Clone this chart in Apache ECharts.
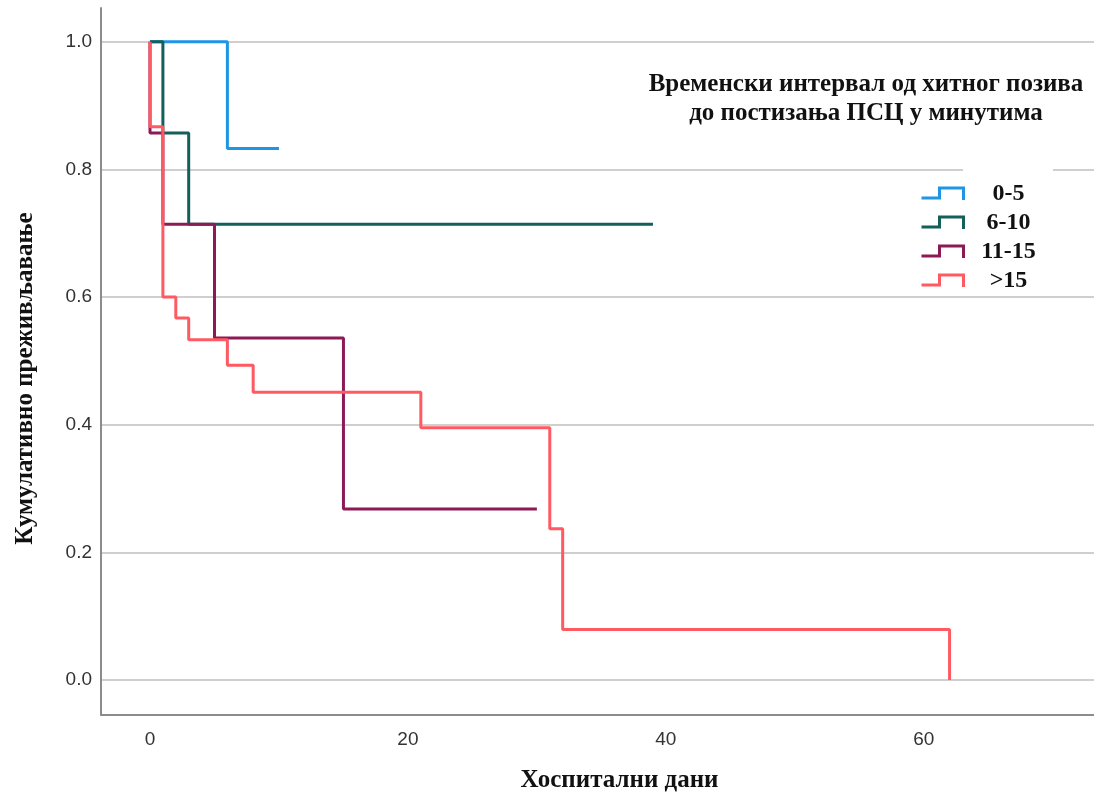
<!DOCTYPE html>
<html>
<head>
<meta charset="utf-8">
<script src="https://cdn.jsdelivr.net/npm/echarts@6/dist/echarts.min.js"></script>
<style>html,body{margin:0;padding:0;background:#fff}#c{width:1094px;height:798px}</style>
</head>
<body>
<div id="c"></div>
<script>
// Kaplan-Meier step data: [day, cumulative survival]
const seriesNames = ['0-5', '6-10', '11-15', '>15'];
const s0_5 = [[0, 1], [6, 0.833], [10, 0.833]];
const s6_10 = [[0, 1], [1, 0.857], [3, 0.714], [39, 0.714]];
const s11_15 = [[0, 1], [0, 0.857], [1, 0.714], [5, 0.536], [15, 0.268], [30, 0.268]];
const sOver15 = [[0, 1], [0, 0.867], [1, 0.6], [2, 0.567], [3, 0.533], [6, 0.493], [8, 0.451], [21, 0.395], [31, 0.237], [32, 0.079], [62, 0]];
const xTicks = [0, 20, 40, 60];
const yTicks = [0, 0.2, 0.4, 0.6, 0.8, 1.0];
const colors = ['#1f95e6', '#125f5c', '#8b1a56', '#ff5a62'];
const legendTitle = 'Временски интервал од хитног позива\nдо постизања ПСЦ у минутима';
const xName = 'Хоспитални дани';
const yName = 'Кумулативно преживљавање';

const dataSets = [s0_5, s6_10, s11_15, sOver15];
const serif = "'Liberation Serif', 'Times New Roman', serif";
const sans = "'Liberation Sans', Arial, sans-serif";
const stepIcon = 'path://M0,10 L18,10 L18,0 L42,0 L42,12';

const chart = echarts.init(document.getElementById('c'), null, {renderer: 'canvas'});
chart.setOption({
  animation: false,
  backgroundColor: '#fff',
  grid: {left: 101, right: 0, top: 8, bottom: 80, containLabel: false},
  xAxis: {
    type: 'value', min: -3.8, max: 73.2,
    axisLine: {show: true, onZero: false, lineStyle: {color: '#8c8c8c', width: 2}},
    axisTick: {show: false, customValues: xTicks},
    axisLabel: {customValues: xTicks, margin: 15, color: '#333', fontSize: 19, fontFamily: sans},
    splitLine: {show: false},
    name: xName, nameLocation: 'middle', nameGap: 53,
    nameTextStyle: {fontFamily: serif, fontWeight: 'bold', fontSize: 25, color: '#111', padding: [0, 0, 0, 44]}
  },
  yAxis: {
    type: 'value', min: -0.055, max: 1.053,
    axisLine: {show: true, onZero: false, lineStyle: {color: '#8c8c8c', width: 2}},
    axisTick: {show: false, customValues: yTicks},
    axisLabel: {customValues: yTicks, margin: 9, color: '#333', fontSize: 19, fontFamily: sans,
      formatter: v => v.toFixed(1)},
    splitLine: {show: true, lineStyle: {color: '#cfcfcf', width: 2}},
    name: yName, nameLocation: 'middle', nameGap: 63, nameRotate: 90,
    nameTextStyle: {fontFamily: serif, fontWeight: 'bold', fontSize: 25, color: '#111', padding: [0, 34, 0, 0]}
  },
  legend: {
    orient: 'vertical', left: 920, top: 182, padding: 0,
    itemWidth: 42, itemHeight: 12, itemGap: 5,
    icon: stepIcon,
    data: seriesNames.map((n, i) => ({name: n, itemStyle: {color: 'transparent', borderColor: colors[i], borderWidth: 3}})),
    formatter: n => '{t|' + n + '}',
    textStyle: {rich: {t: {width: 80, align: 'center', lineHeight: 24, fontFamily: serif, fontWeight: 'bold', fontSize: 24, color: '#111'}}}
  },
  graphic: [{
    type: 'rect', shape: {x: 963, y: 167, width: 90, height: 8},
    style: {fill: '#fff'}, z: 100, silent: true
  }, {
    type: 'text', x: 866, y: 70,
    style: {text: legendTitle, align: 'center', font: "bold 25px 'Liberation Serif', serif", fill: '#111', lineHeight: 29}
  }],
  series: dataSets.map((d, i) => ({
    name: seriesNames[i], type: 'line', step: 'end', data: d,
    showSymbol: false, symbol: 'none',
    lineStyle: {color: colors[i], width: 3},
    itemStyle: {color: colors[i]},
    z: 2 + i
  }))
});
</script>
</body>
</html>
